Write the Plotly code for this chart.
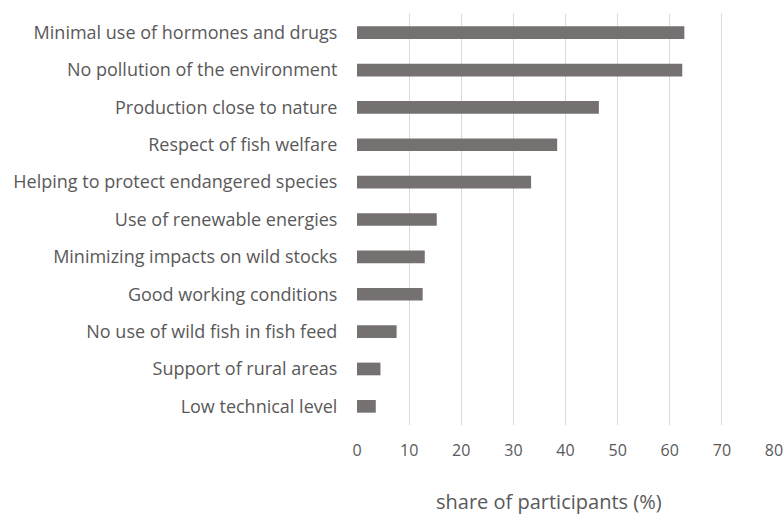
import plotly.graph_objects as go

categories = [
    "Minimal use of hormones and drugs",
    "No pollution of the environment",
    "Production close to nature",
    "Respect of fish welfare",
    "Helping to protect endangered species",
    "Use of renewable energies",
    "Minimizing impacts on wild stocks",
    "Good working conditions",
    "No use of wild fish in fish feed",
    "Support of rural areas",
    "Low technical level",
]
values = [62.8, 62.4, 46.4, 38.4, 33.4, 15.3, 13.0, 12.6, 7.6, 4.5, 3.6]
x_ticks = [0, 10, 20, 30, 40, 50, 60, 70, 80]
x_title = "share of participants (%)"

TEXT = "#595959"
FONT = "Open Sans, Noto Sans, sans-serif"

fig = go.Figure(
    go.Bar(
        x=values,
        y=categories,
        orientation="h",
        marker=dict(color="#767171", line=dict(width=0)),
        width=0.34,
    )
)

fig.update_layout(
    width=783,
    height=514,
    margin=dict(l=357, r=9, t=14, b=89),
    plot_bgcolor="white",
    paper_bgcolor="white",
    showlegend=False,
    font=dict(family=FONT, size=15, color=TEXT),
    annotations=[
        dict(
            text=x_title,
            xref="paper",
            yref="paper",
            x=0.46,
            y=-0.187,
            xanchor="center",
            yanchor="middle",
            showarrow=False,
            font=dict(family=FONT, size=20, color=TEXT),
        )
    ],
)

fig.update_xaxes(
    range=[0, 80],
    tickvals=x_ticks,
    ticktext=[str(t) for t in x_ticks],
    showgrid=True,
    gridcolor="#d9d9d9",
    gridwidth=1,
    zeroline=False,
    showline=False,
    ticks="outside",
    ticklen=11,
    tickcolor="rgba(0,0,0,0)",
    automargin=False,
    ticklabeloverflow="allow",
    tickfont=dict(family=FONT, size=16, color=TEXT),
)

fig.update_yaxes(
    categoryorder="array",
    categoryarray=categories[::-1],
    range=[-0.5, len(categories) - 0.5],
    showgrid=False,
    zeroline=False,
    showline=False,
    ticks="outside",
    ticklen=15,
    tickcolor="rgba(0,0,0,0)",
    automargin=False,
    tickfont=dict(family=FONT, size=18, color=TEXT),
)

fig.write_html(
    "out.html",
    config={"displayModeBar": False},
    post_script="document.body.style.margin='0';document.body.style.overflow='hidden';",
)
